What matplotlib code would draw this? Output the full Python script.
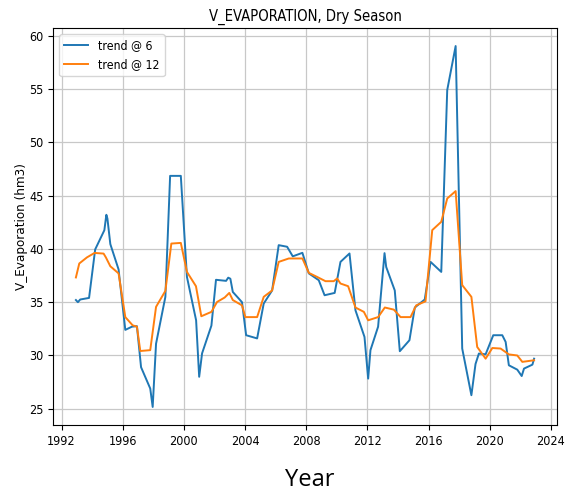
import matplotlib
matplotlib.use("Agg")
import matplotlib.pyplot as plt

plt.rcParams['font.family'] = ['DejaVu Sans']
plt.rcParams['font.stretch'] = 'condensed'

# trend @ 6 (blue)
t6_year = [1992.94, 1993.07, 1993.22, 1993.8, 1994.2, 1994.8, 1994.93, 1995.0, 1995.19, 1995.73,
           1996.17, 1996.6, 1996.93, 1997.2, 1997.8, 1997.96, 1998.18, 1998.79, 1999.1, 1999.8,
           2000.2, 2000.8, 2001.0, 2001.19, 2001.8, 2002.1, 2002.76, 2002.9, 2003.04, 2003.2,
           2003.8, 2004.07, 2004.79, 2005.22, 2005.77, 2006.2, 2006.75, 2007.12, 2007.75, 2008.17,
           2008.82, 2009.2, 2009.86, 2010.24, 2010.83, 2011.22, 2011.81, 2012.05, 2012.2, 2012.7,
           2013.12, 2013.23, 2013.79, 2014.12, 2014.75, 2015.1, 2015.75, 2016.13, 2016.83, 2017.22,
           2017.77, 2018.2, 2018.8, 2019.07, 2019.29, 2019.73, 2020.23, 2020.82, 2021.04, 2021.25,
           2021.8, 2022.09, 2022.24, 2022.79, 2022.9]
t6_val = [35.2, 35.0, 35.25, 35.4, 39.95, 41.75, 43.2, 42.85, 40.45, 38.07,
          32.4, 32.7, 32.75, 28.9, 26.9, 25.17, 31.1, 35.5, 46.85, 46.85,
          37.37, 33.3, 28.0, 30.2, 32.8, 37.1, 37.0, 37.3, 37.2, 35.96,
          35.0, 31.9, 31.6, 34.87, 36.1, 40.35, 40.2, 39.3, 39.63, 37.7,
          37.06, 35.65, 35.87, 38.78, 39.57, 34.24, 31.74, 27.83, 30.5, 32.7,
          39.6, 38.3, 36.1, 30.4, 31.43, 34.5, 35.25, 38.78, 37.84, 54.9,
          59.03, 30.65, 26.27, 29.2, 30.18, 30.11, 31.9, 31.9, 31.27, 29.08,
          28.67, 28.07, 28.77, 29.14, 29.7]

# trend @ 12 (orange)
t12_year = [1992.94, 1993.16, 1993.66, 1994.16, 1994.75, 1994.9, 1995.19, 1995.73, 1996.17, 1996.65,
            1996.93, 1997.15, 1997.8, 1998.18, 1998.79, 1999.18, 1999.8, 2000.2, 2000.79, 2001.14,
            2001.8, 2002.17, 2002.67, 2002.97, 2003.2, 2003.8, 2004.02, 2004.79, 2005.22, 2005.77,
            2006.2, 2006.86, 2007.75, 2008.17, 2008.71, 2009.26, 2009.8, 2010.02, 2010.24, 2010.74,
            2011.22, 2011.77, 2012.05, 2012.7, 2013.14, 2013.73, 2014.17, 2014.82, 2015.19, 2015.8,
            2016.24, 2016.83, 2017.22, 2017.77, 2018.2, 2018.8, 2019.18, 2019.73, 2020.17, 2020.71,
            2021.25, 2021.8, 2022.13, 2022.9]
t12_val = [37.32, 38.63, 39.2, 39.62, 39.56, 39.2, 38.37, 37.7, 33.6, 32.83,
           32.7, 30.42, 30.5, 34.56, 36.06, 40.5, 40.56, 37.84, 36.5, 33.68,
           34.09, 35.02, 35.44, 35.87, 35.2, 34.7, 33.6, 33.6, 35.5, 36.1,
           38.78, 39.1, 39.1, 37.75, 37.37, 36.97, 36.97, 37.22, 36.75, 36.5,
           34.5, 34.09, 33.3, 33.6, 34.5, 34.3, 33.6, 33.6, 34.7, 35.08,
           41.76, 42.54, 44.73, 45.42, 36.6, 35.5, 30.8, 29.7, 30.7, 30.65,
           30.1, 30.0, 29.4, 29.55]

x_ticks = [1992, 1996, 2000, 2004, 2008, 2012, 2016, 2020, 2024]
y_ticks = [25, 30, 35, 40, 45, 50, 55, 60]

fig = plt.figure(figsize=(5.7, 4.95), dpi=100)
ax = fig.add_axes([53/570, 1 - 425/495, (557-53)/570, (425-28)/495])
ax.plot(t6_year, t6_val, color="#1f77b4", lw=1.4, label="trend @ 6")
ax.plot(t12_year, t12_val, color="#ff7f0e", lw=1.4, label="trend @ 12")
ax.set_xticks(x_ticks)
ax.set_xticklabels([str(v) for v in x_ticks])
ax.set_yticks(y_ticks)
ax.tick_params(labelsize=9, length=3.5)
ax.grid(True, color="#c8c8c8", lw=0.9)
ax.set_title("V_EVAPORATION, Dry Season", fontsize=10.6, pad=5)
ax.set_ylabel("V_Evaporation (hm3)", fontsize=9.6)
ax.yaxis.set_label_coords(-0.05, 0.5)
ax.legend(loc="upper left", fontsize=8.8, framealpha=0.8)
fig.text(310/570, 1 - 480/495, "Year", fontsize=17, family="Open Sans",
         stretch="normal", ha="center", va="center")
fig.savefig("out.png", dpi=100)
